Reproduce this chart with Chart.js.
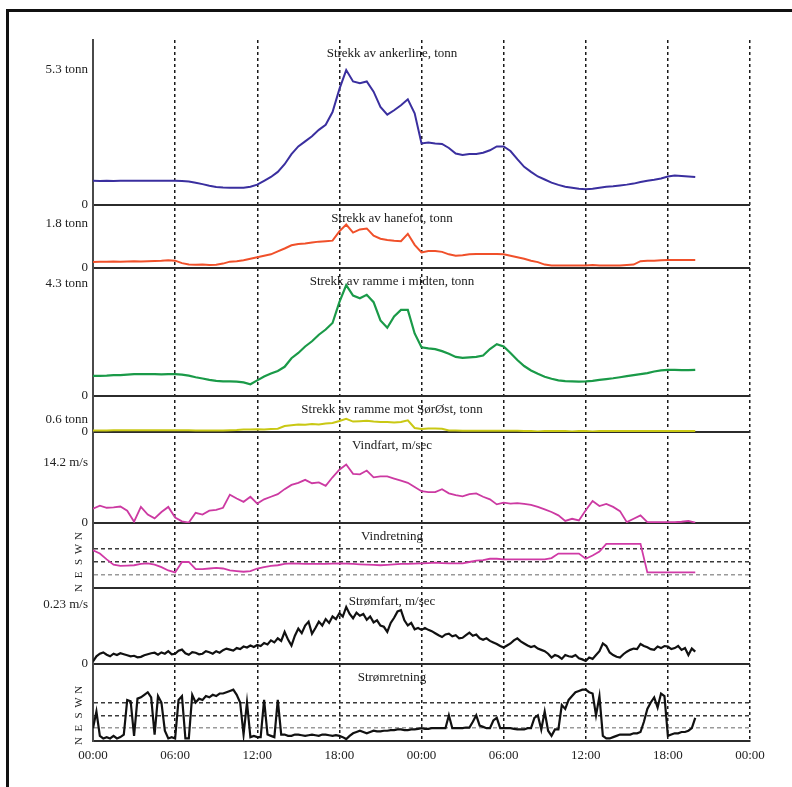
<!DOCTYPE html>
<html>
<head>
<meta charset="utf-8">
<script src="https://cdn.jsdelivr.net/npm/chart.js@4/dist/chart.umd.min.js"></script>
<style>
html, body { margin:0; padding:0; background:#fff; }
#frame { position:absolute; left:6px; top:9px; width:800px; height:800px; border-top:3px solid #111; border-left:3px solid #111; }
#chart { position:absolute; left:0; top:0; }
</style>
</head>
<body>
<div id="frame"></div>
<canvas id="chart" width="792" height="787"></canvas>
<script>
// time axis in hours from the first midnight (two days)
const timeTicks = [0, 6, 12, 18, 24, 30, 36, 42, 48];
const timeTickLabels = ['00:00', '06:00', '12:00', '18:00', '00:00', '06:00', '12:00', '18:00', '00:00'];

const panelTitles = [
  'Strekk av ankerline, tonn',
  'Strekk av hanefot, tonn',
  'Strekk av ramme i midten, tonn',
  'Strekk av ramme mot SørØst, tonn',
  'Vindfart, m/sec',
  'Vindretning',
  'Strømfart, m/sec',
  'Strømretning'
];

// sampling interval of each logged series, hours
const halfHour = 0.5;
const quarterHour = 0.25;

// half-hour samples, 00:00 to 20:00 next day
const ankerline = [0.95,0.94,0.95,0.94,0.95,0.95,0.95,0.95,0.95,0.95,
  0.95,0.95,0.95,0.94,0.92,0.87,0.82,0.76,0.71,0.69,
  0.68,0.68,0.68,0.72,0.80,0.95,1.10,1.30,1.60,2.00,
  2.30,2.50,2.70,2.95,3.15,3.65,4.55,5.30,4.85,4.78,
  4.85,4.45,3.85,3.55,3.72,3.92,4.15,3.60,2.42,2.45,
  2.42,2.40,2.24,2.02,1.96,2.00,2.00,2.05,2.15,2.30,
  2.30,2.12,1.80,1.50,1.30,1.12,1.00,0.88,0.79,0.72,
  0.68,0.64,0.62,0.64,0.68,0.72,0.74,0.77,0.80,0.84,
  0.90,0.95,0.99,1.04,1.12,1.16,1.14,1.12,1.10];

const hanefot = [0.25,0.26,0.26,0.27,0.26,0.27,0.28,0.27,0.28,0.29,
  0.30,0.32,0.30,0.20,0.14,0.13,0.14,0.12,0.13,0.18,
  0.26,0.28,0.32,0.38,0.44,0.50,0.56,0.68,0.80,0.93,
  0.98,1.00,1.04,1.08,1.10,1.12,1.50,1.78,1.45,1.58,
  1.62,1.32,1.20,1.15,1.12,1.10,1.40,0.95,0.64,0.70,
  0.70,0.66,0.56,0.50,0.52,0.56,0.57,0.57,0.57,0.57,
  0.56,0.50,0.44,0.38,0.30,0.24,0.14,0.10,0.10,0.10,
  0.10,0.10,0.10,0.12,0.10,0.10,0.10,0.10,0.12,0.14,
  0.28,0.30,0.30,0.32,0.33,0.33,0.33,0.33,0.33];

const rammeMidten = [0.77,0.77,0.78,0.80,0.80,0.82,0.84,0.84,0.84,0.84,
  0.83,0.84,0.84,0.82,0.78,0.72,0.67,0.62,0.58,0.56,
  0.56,0.55,0.52,0.45,0.60,0.75,0.86,0.96,1.12,1.45,
  1.65,1.90,2.10,2.35,2.55,2.80,3.60,4.25,3.85,3.75,
  3.88,3.60,2.90,2.62,3.05,3.30,3.30,2.40,1.87,1.83,
  1.80,1.72,1.62,1.50,1.46,1.48,1.50,1.55,1.80,1.99,
  1.90,1.65,1.38,1.15,0.98,0.85,0.74,0.66,0.60,0.57,
  0.56,0.55,0.56,0.58,0.62,0.65,0.68,0.72,0.76,0.80,
  0.84,0.88,0.94,0.98,1.00,1.00,0.99,0.99,1.00];

const rammeSorost = [0.08,0.08,0.08,0.09,0.09,0.09,0.09,0.09,0.09,0.09,
  0.09,0.09,0.09,0.09,0.09,0.08,0.07,0.07,0.08,0.08,
  0.09,0.10,0.12,0.13,0.14,0.12,0.15,0.16,0.30,0.34,
  0.38,0.36,0.40,0.38,0.42,0.45,0.55,0.66,0.52,0.54,
  0.56,0.52,0.50,0.50,0.48,0.50,0.58,0.20,0.15,0.17,
  0.17,0.16,0.08,0.07,0.06,0.06,0.06,0.06,0.06,0.06,
  0.06,0.06,0.06,0.05,0.05,0.03,0.05,0.05,0.05,0.05,
  0.03,0.05,0.05,0.02,0.05,0.05,0.05,0.05,0.05,0.05,
  0.05,0.05,0.05,0.05,0.05,0.05,0.05,0.05,0.05];

const vindfart = [3.4,4.1,3.6,3.7,3.9,2.9,0.3,3.8,2.0,1.1,
  2.6,3.8,1.3,0.4,0.1,2.4,2.0,2.9,3.1,3.6,
  6.7,5.8,5.0,6.2,4.6,5.6,6.2,6.8,8.0,9.0,
  9.5,10.2,9.4,9.6,8.8,10.8,12.6,13.8,11.6,11.5,
  12.4,10.8,11.0,11.0,10.5,10.0,9.5,8.5,7.5,7.3,
  7.3,8.0,7.0,6.6,6.3,6.8,7.0,6.2,5.6,4.4,
  4.8,4.6,4.7,4.5,4.3,3.8,3.2,2.6,1.8,0.5,
  1.0,0.6,3.0,5.2,4.0,4.5,3.8,2.8,0.2,1.0,
  1.8,0.2,0.2,0.2,0.2,0.2,0.3,0.5,0.1];

// direction: 0 = N, 1 = E, 2 = S, 3 = W, 4 = N
const vindretning = [2.9,2.65,2.2,1.8,1.7,1.72,1.75,1.85,1.9,1.8,
  1.6,1.35,1.2,2.0,2.0,1.45,1.45,1.5,1.55,1.5,
  1.35,1.3,1.25,1.3,1.5,1.6,1.7,1.75,1.85,1.9,
  1.88,1.85,1.85,1.85,1.85,1.88,1.9,1.88,1.85,1.82,
  1.8,1.78,1.75,1.78,1.82,1.85,1.85,1.88,1.9,1.92,
  1.95,1.92,1.9,1.9,1.9,2.0,2.1,2.15,2.25,2.25,
  2.2,2.2,2.2,2.2,2.2,2.2,2.2,2.3,2.65,2.65,
  2.65,2.65,2.25,2.5,2.8,3.4,3.4,3.4,3.4,3.4,
  3.4,1.2,1.2,1.2,1.2,1.2,1.2,1.2,1.2];

// quarter-hour samples, one row per hour
const stromfart = [
  0.010,0.030,0.040,0.045, 0.036,0.030,0.040,0.035, 0.042,0.038,0.034,0.030,
  0.032,0.026,0.028,0.034, 0.038,0.042,0.044,0.036, 0.045,0.040,0.050,0.038,
  0.040,0.052,0.056,0.042, 0.036,0.046,0.044,0.038, 0.040,0.050,0.046,0.040,
  0.050,0.044,0.054,0.060, 0.056,0.052,0.062,0.058, 0.068,0.064,0.072,0.066,
  0.074,0.070,0.082,0.076, 0.092,0.084,0.100,0.090, 0.125,0.095,0.072,0.110,
  0.138,0.120,0.150,0.165, 0.118,0.140,0.165,0.150, 0.175,0.160,0.185,0.175,
  0.198,0.185,0.222,0.195, 0.178,0.200,0.188,0.195, 0.172,0.185,0.162,0.170,
  0.150,0.145,0.125,0.160, 0.180,0.205,0.210,0.170, 0.150,0.160,0.135,0.140,
  0.133,0.140,0.133,0.128, 0.120,0.112,0.105,0.115, 0.118,0.108,0.112,0.100,
  0.102,0.112,0.122,0.110, 0.115,0.100,0.094,0.100, 0.090,0.084,0.078,0.070,
  0.064,0.072,0.080,0.092, 0.100,0.088,0.080,0.072, 0.066,0.070,0.060,0.055,
  0.050,0.040,0.025,0.035, 0.030,0.020,0.035,0.030, 0.028,0.035,0.022,0.018,
  0.012,0.025,0.020,0.035, 0.050,0.080,0.070,0.045, 0.035,0.028,0.025,0.038,
  0.048,0.055,0.060,0.058, 0.078,0.070,0.065,0.058, 0.055,0.068,0.062,0.070,
  0.068,0.058,0.062,0.070, 0.055,0.062,0.035,0.060, 0.048];

const stromretning = [
  1.0,2.3,0.4,0.2, 0.3,0.2,0.4,0.2, 0.3,0.5,3.2,3.1,
  0.4,3.3,3.4,3.6, 3.8,3.4,0.5,3.5, 3.0,0.8,0.2,0.3,
  0.2,3.2,3.5,0.2, 0.2,3.6,3.0,3.3, 3.2,3.5,3.4,3.6,
  3.5,3.7,3.7,3.8, 3.9,4.0,3.6,3.0, 0.5,3.0,0.3,0.4,
  0.3,0.3,3.2,0.5, 0.4,0.3,3.2,0.5, 0.5,0.4,0.4,0.5,
  0.5,0.45,0.4,0.45, 0.5,0.45,0.4,0.5, 0.5,0.45,0.4,0.45,
  0.4,0.3,0.15,0.4, 0.6,0.7,0.8,0.7, 0.6,0.7,0.8,0.75,
  0.75,0.8,0.8,0.85, 0.85,0.9,0.9,0.85, 0.85,0.9,0.9,0.95,
  1.0,0.95,0.95,1.0, 1.0,1.0,1.0,1.0, 2.0,1.0,1.0,1.0,
  1.0,1.05,1.05,1.5, 2.0,1.2,1.1,1.0, 1.0,1.6,1.8,1.0,
  1.0,1.0,1.0,0.95, 0.9,0.9,0.9,1.0, 1.0,1.8,2.0,0.9,
  2.3,0.8,0.4,0.9, 0.9,2.8,2.5,3.2, 3.5,3.8,3.9,4.0,
  4.0,3.8,3.7,2.0, 3.5,0.4,0.2,0.2, 0.3,0.4,0.5,0.5,
  0.5,0.5,0.6,0.6, 0.7,1.5,2.5,3.0, 3.4,2.6,3.7,3.5,
  0.4,0.5,0.6,0.6, 0.7,0.7,0.8,1.0, 1.8];

// axis ranges and tick labels per panel
const axisMax = [6.48, 2.58, 4.91, 1.8, 21.5, 5.0, 0.296, 6.0];
const valueTicks = [[0, 5.3], [0, 1.8], [0, 4.3], [0, 0.6], [0, 14.2], null, [0, 0.23], null];
const valueTickLabels = [['0', '5.3 tonn'], ['0', '1.8 tonn'], ['0', '4.3 tonn'], ['0', '0.6 tonn'],
  ['0', '14.2 m/s'], null, ['0', '0.23 m/s'], null];
const dirTicks = [0, 1, 2, 3, 4];
const dirLabels = ['N', 'E', 'S', 'W', 'N'];

const series = [ankerline, hanefot, rammeMidten, rammeSorost, vindfart, vindretning, stromfart, stromretning];
const steps = [halfHour, halfHour, halfHour, halfHour, halfHour, halfHour, quarterHour, quarterHour];
const colors = ['#3a2f9f', '#f0502a', '#1a9a48', '#c9c814', '#cc3aa2', '#d03aa6', '#111111', '#111111'];
const widths = [2, 2, 2.2, 2, 1.8, 1.8, 2.2, 2.2];
const heights = [165, 63, 128, 36, 91, 65, 76, 77];

const serif = '"Liberation Serif", "Times New Roman", serif';
Chart.defaults.font.family = serif;

function panelScale(i) {
  const isDir = valueTicks[i] === null;
  const tickVals = isDir ? dirTicks : valueTicks[i];
  const tickLabels = isDir ? dirLabels : valueTickLabels[i];
  return {
    type: 'linear',
    position: 'left',
    stack: 'panels',
    stackWeight: heights[i],
    weight: 8 - i,
    min: 0,
    max: axisMax[i],
    afterBuildTicks: s => { s.ticks = tickVals.map(v => ({ value: v })); },
    afterFit: s => { s.width = 86; },
    grid: {
      drawTicks: false,
      lineWidth: c => (c.tick && c.tick.value === 0 ? 2 : 1.6),
      color: c => {
        if (!c.tick) return 'rgba(0,0,0,0)';
        const v = c.tick.value;
        if (v === 0) return '#2b2b2b';
        if (!isDir || v === 4) return 'rgba(0,0,0,0)';
        return v === 1 ? '#9a9a9a' : '#3a3a3a';
      }
    },
    border: {
      display: true, color: '#4a4a4a', width: 2,
      dash: c => (c.tick && c.tick.value !== 0 ? [4, 3] : [])
    },
    ticks: {
      autoSkip: false,
      padding: isDir ? 9 : 5,
      color: '#222',
      font: { size: isDir ? 11 : 13 },
      minRotation: isDir ? 90 : 0,
      maxRotation: isDir ? 90 : 0,
      crossAlign: isDir ? 'center' : 'near',
      callback: (v, idx) => tickLabels[idx]
    }
  };
}

const scales = {
  x: {
    type: 'linear',
    min: 0,
    max: 48,
    afterBuildTicks: s => { s.ticks = timeTicks.map(v => ({ value: v })); },
    afterFit: s => { s.height = 46; },
    grid: {
      drawTicks: false,
      lineWidth: 1.5,
      color: c => (c.tick && c.tick.value > 0 ? '#1a1a1a' : 'rgba(0,0,0,0)')
    },
    border: { display: true, color: '#2b2b2b', width: 2, dash: [3, 3] },
    ticks: {
      autoSkip: false, maxRotation: 0, padding: 7, color: '#222', font: { size: 13 },
      callback: (v, idx) => timeTickLabels[idx]
    }
  }
};
series.forEach((d, i) => { scales['y' + i] = panelScale(i); });

const panelTitlePlugin = {
  id: 'panelTitles',
  afterDatasetsDraw(chart) {
    const ctx = chart.ctx;
    ctx.save();
    ctx.font = '13px ' + serif;
    ctx.fillStyle = '#1a1a1a';
    ctx.textAlign = 'center';
    ctx.textBaseline = 'middle';
    panelTitles.forEach((t, i) => {
      const s = chart.scales['y' + i];
      ctx.fillText(t, 392, s.top + 14);
    });
    ctx.restore();
  }
};

new Chart(document.getElementById('chart'), {
  type: 'line',
  data: {
    datasets: series.map((d, i) => ({
      label: panelTitles[i],
      data: d.map((v, k) => ({ x: k * steps[i], y: v })),
      yAxisID: 'y' + i,
      borderColor: colors[i],
      borderWidth: widths[i],
      pointRadius: 0,
      tension: 0,
      fill: false
    }))
  },
  options: {
    responsive: false,
    animation: false,
    layout: { padding: { left: 7, top: 40, right: 42, bottom: 0 } },
    plugins: { legend: { display: false }, tooltip: { enabled: false } },
    scales: scales
  },
  plugins: [panelTitlePlugin]
});
</script>
</body>
</html>
